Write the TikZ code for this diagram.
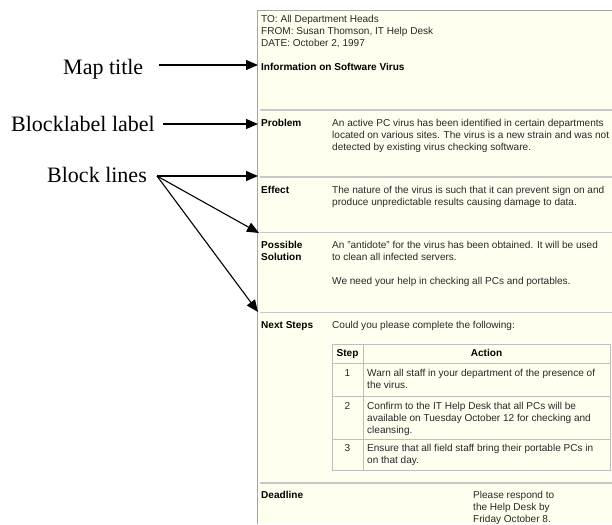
\documentclass[tikz,border=0pt]{standalone}
\usepackage{fontspec}
\setmainfont{Liberation Sans}
\newfontfamily\serifann{Liberation Serif}
\usetikzlibrary{arrows.meta}
\definecolor{panelbg}{RGB}{255,255,240}
\definecolor{bordergray}{RGB}{165,165,165}
\definecolor{sepgray}{RGB}{200,200,200}
\definecolor{tablegray}{RGB}{190,190,190}
\definecolor{bodytext}{RGB}{40,40,40}
\begin{document}
\begin{tikzpicture}[x=1pt,y=-1pt,
  txt/.style={anchor=north west, inner sep=0pt, align=left, font=\fontsize{10.05}{12}\selectfont, text=bodytext},
  lbl/.style={anchor=north west, inner sep=0pt, align=left, font=\fontsize{10.05}{12}\selectfont\bfseries, text=black},
  cell/.style={anchor=base, inner sep=0pt, font=\fontsize{10.05}{12}\selectfont, text=bodytext},
  hcell/.style={anchor=base, inner sep=0pt, font=\fontsize{10.05}{12}\selectfont\bfseries, text=black},
  ann/.style={anchor=base west, inner sep=0pt, font=\serifann\fontsize{22}{26}\selectfont, text=black},
  pointer/.style={-{Triangle[length=12pt,width=10pt]}, line width=1.1pt, black},
  sepline/.style={draw=sepgray, line width=1.5pt},
  tblline/.style={draw=tablegray, line width=0.8pt}]
\useasboundingbox (0,0) rectangle (612,524);
% panel
\fill[panelbg] (257,10) rectangle (612,524);
\draw[bordergray, line width=1pt] (257.5,524) -- (257.5,10.5) -- (612,10.5);
% block separator lines
\draw[sepline] (260,110) -- (612,110);
\draw[sepline] (260,177) -- (612,177);
\draw[sepline] (260,232.5) -- (612,232.5);
\draw[sepline] (260,312.5) -- (612,312.5);
\draw[sepline] (260,483) -- (612,483);
% header
\node[txt] (hdr) at (261,15.4) {TO: All Department Heads\\FROM: Susan Thomson, IT Help Desk\\DATE: October 2, 1997};
\node[lbl] (title) at (261,63.4) {Information on Software Virus};
% Problem
\node[lbl] (prob) at (261,119.4) {Problem};
\node[txt] (probtxt) at (332,119.4) {An active PC virus has been identified in certain departments\\located on various sites. The virus is a new strain and was not\\detected by existing virus checking software.};
% Effect
\node[lbl] (eff) at (261,186.4) {Effect};
\node[txt] (efftxt) at (332,186.4) {The nature of the virus is such that it can prevent sign on and\\produce unpredictable results causing damage to data.};
% Possible solution
\node[lbl] (sol) at (261,241.4) {Possible\\Solution};
\node[txt] (soltxt) at (332,241.4) {An "antidote" for the virus has been obtained. It will be used\\to clean all infected servers.\\[12pt]We need your help in checking all PCs and portables.};
% Next steps
\node[lbl] (next) at (261,321.4) {Next Steps};
\node[txt] (nexttxt) at (332,321.4) {Could you please complete the following:};
% table
\draw[tblline] (332,344) rectangle (610,470);
\draw[tblline] (363,344) -- (363,470);
\draw[tblline] (332,363) -- (610,363);
\draw[tblline] (332,396) -- (610,396);
\draw[tblline] (332,439) -- (610,439);
\node[hcell] (hstep) at (347.5,356.6) {Step};
\node[hcell] (hact) at (486.5,356.6) {Action};
\node[cell] (n1) at (347.5,376.6) {1};
\node[txt] (a1) at (367,369.4) {Warn all staff in your department of the presence of\\the virus.};
\node[cell] (n2) at (347.5,409.6) {2};
\node[txt] (a2) at (367,402.4) {Confirm to the IT Help Desk that all PCs will be\\available on Tuesday October 12 for checking and\\cleansing.};
\node[cell] (n3) at (347.5,451.6) {3};
\node[txt] (a3) at (367,444.4) {Ensure that all field staff bring their portable PCs in\\on that day.};
% deadline
\node[lbl] (dead) at (261,491.4) {Deadline};
\node[txt] (deadtxt) at (473,491.4) {Please respond to\\the Help Desk by\\Friday October 8.};
% annotations
\node[ann] (amap) at (63,75) {Map title};
\node[ann] (ablock) at (11,131) {Blocklabel label};
\node[ann] (alines) at (47,182.5) {Block lines};
\coordinate (mapS) at (159,65);
\coordinate (mapT) at (258,65);
\coordinate (blkS) at (163,124);
\coordinate (blkT) at (258,124);
\coordinate (linS) at (157,176);
\coordinate (linT1) at (258,176);
\coordinate (linT2) at (259,233);
\coordinate (linT3) at (258,312);
\draw[pointer] (mapS) -- (mapT);
\draw[pointer] (blkS) -- (blkT);
\draw[pointer] (linS) -- (linT1);
\draw[pointer] (linS) -- (linT2);
\draw[pointer] (linS) -- (linT3);
\end{tikzpicture}
\end{document}
